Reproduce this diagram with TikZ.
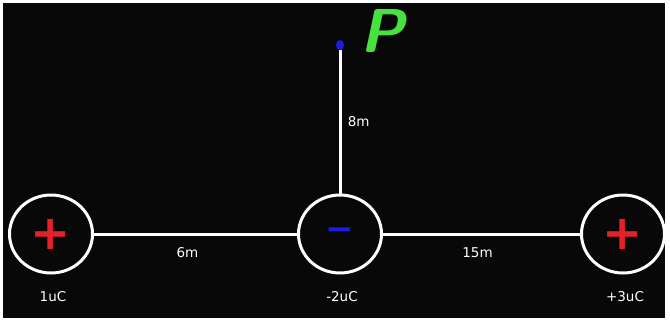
\documentclass[tikz,border=0pt]{standalone}
\usepackage{fontspec}
\setmainfont{DejaVu Sans}
\usetikzlibrary{shapes.geometric}
\definecolor{plusred}{RGB}{228,32,42}
\definecolor{minusblue}{RGB}{28,28,232}
\definecolor{pgreen}{RGB}{72,226,62}
\tikzset{
  charge/.style={draw=white,line width=3pt,ellipse,minimum width=83pt,minimum height=78pt,inner sep=0pt},
  rod/.style={white,line width=3pt},
  lbl/.style={white,font=\fontsize{13.5}{15}\selectfont},
}
\begin{document}
\begin{tikzpicture}[x=1pt,y=-1pt]
% frame
\useasboundingbox (0,0) rectangle (670,322);
\fill[white] (0,0) rectangle (670,322);
\fill[black!97] (3,3) rectangle (665,318);
% charges
\foreach \x/\name/\lab in {51/qa/1uC,340/qb/-2uC,623/qc/+3uC} {
  \node[charge] (\name) at (\x,234) {};
  \node[lbl] at (\x+2,297) {\lab};
}
\node[plusred,font=\fontsize{48}{48}\bfseries\selectfont] at (qa) {+};
\node[minusblue,font=\fontsize{34}{34}\bfseries\selectfont] at (qb) {−};
\node[plusred,font=\fontsize{48}{48}\bfseries\selectfont] at (qc) {+};
% point P
\node[fill=minusblue,ellipse,minimum width=8pt,minimum height=10pt,inner sep=0pt] (p) at (340,45) {};
\node[pgreen,font=\fontsize{62}{62}\sffamily\bfseries\slshape\selectfont] at (382,31) {P};
% distances
\draw[rod] (qa) -- node[lbl,below=9pt,pos=0.46] {6m} (qb);
\draw[rod] (qb) -- node[lbl,below=9pt,pos=0.48] {15m} (qc);
\draw[rod] (qb) -- node[lbl,right=3pt] {8m} (p);
\end{tikzpicture}
\end{document}
